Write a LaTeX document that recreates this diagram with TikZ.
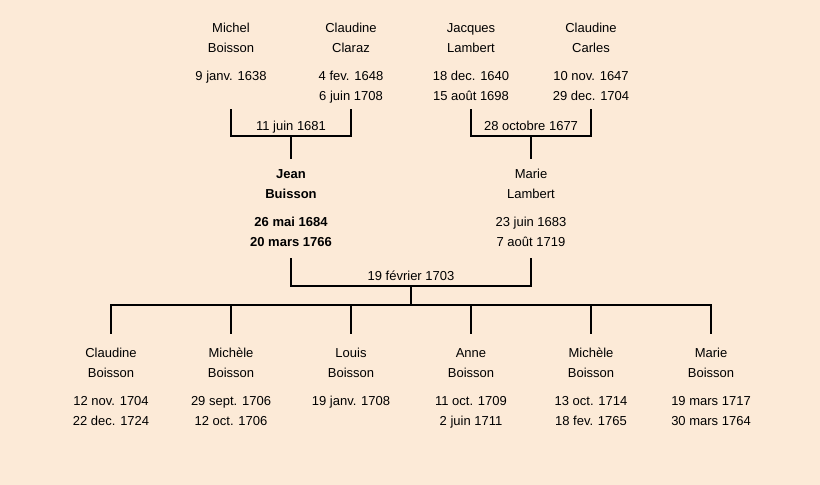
\documentclass[tikz,border=0pt]{standalone}
\usepackage{fontspec}
\setmainfont{Liberation Sans}
\definecolor{bgc}{RGB}{252,234,215}
\tikzset{
  txt/.style={anchor=base, inner sep=0pt, font=\fontsize{13}{15}\selectfont},
  btxt/.style={txt, font=\fontsize{13}{15}\selectfont\bfseries},
  link/.style={line width=2pt, line cap=rect, black},
}
% \pers{id}{x}{ybase}{style}{l1}{l2}{l3}{l4}
\newcommand{\pers}[8]{%
  \node[#4] (#1-a) at (#2,#3) {#5};
  \node[#4] (#1-b) at (#2,#3+20) {#6};
  \node[#4] (#1-c) at (#2,#3+48) {#7};
  \node[#4] (#1-d) at (#2,#3+68) {#8};
}
\begin{document}
\begin{tikzpicture}[x=1pt,y=-1pt]
\fill[bgc] (0,0) rectangle (820,485);
\useasboundingbox (0,0) rectangle (820,485);
% top generation
\pers{mb}{231}{32}{txt}{Michel}{Boisson}{9 janv. 1638}{}
\pers{cc}{351}{32}{txt}{Claudine}{Claraz}{4 fev. 1648}{6 juin 1708}
\pers{jl}{471}{32}{txt}{Jacques}{Lambert}{18 dec. 1640}{15 août 1698}
\pers{ca}{591}{32}{txt}{Claudine}{Carles}{10 nov. 1647}{29 dec. 1704}
% middle
\pers{jb}{291}{178}{btxt}{Jean}{Buisson}{26 mai 1684}{20 mars 1766}
\pers{ml}{531}{178}{txt}{Marie}{Lambert}{23 juin 1683}{7 août 1719}
% children
\pers{k1}{111}{357}{txt}{Claudine}{Boisson}{12 nov. 1704}{22 dec. 1724}
\pers{k2}{231}{357}{txt}{Michèle}{Boisson}{29 sept. 1706}{12 oct. 1706}
\pers{k3}{351}{357}{txt}{Louis}{Boisson}{19 janv. 1708}{}
\pers{k4}{471}{357}{txt}{Anne}{Boisson}{11 oct. 1709}{2 juin 1711}
\pers{k5}{591}{357}{txt}{Michèle}{Boisson}{13 oct. 1714}{18 fev. 1765}
\pers{k6}{711}{357}{txt}{Marie}{Boisson}{19 mars 1717}{30 mars 1764}
% marriage labels
\node[txt] (m1) at (291,130) {11 juin 1681};
\node[txt] (m2) at (531,130) {28 octobre 1677};
\node[txt] (m3) at (411,280) {19 février 1703};
% coordinates
\coordinate (mbt) at (231,110); \coordinate (cct) at (351,110);
\coordinate (jlt) at (471,110); \coordinate (cat) at (591,110);
\coordinate (jbb) at (291,158); \coordinate (mlb) at (531,158);
\coordinate (jbt) at (291,259); \coordinate (mlt) at (531,259);
\coordinate (m1c) at (291,136); \coordinate (m2c) at (531,136);
\coordinate (m3c) at (411,286); \coordinate (sib) at (411,305);
\foreach \k/\x in {k1/111,k2/231,k3/351,k4/471,k5/591,k6/711}{
  \coordinate (\k t) at (\x,333);
}
% connectors
\draw[link] (mbt) |- (m1c) -| (cct);
\draw[link] (m1c) -- (jbb);
\draw[link] (jlt) |- (m2c) -| (cat);
\draw[link] (m2c) -- (mlb);
\draw[link] (jbt) |- (m3c) -| (mlt);
\draw[link] (m3c) -- (sib);
\draw[link] (k1t) |- (sib) -| (k6t);
\foreach \k in {k2,k3,k4,k5}{
  \draw[link] (\k t) -- (\k t |- sib);
}
\end{tikzpicture}
\end{document}
